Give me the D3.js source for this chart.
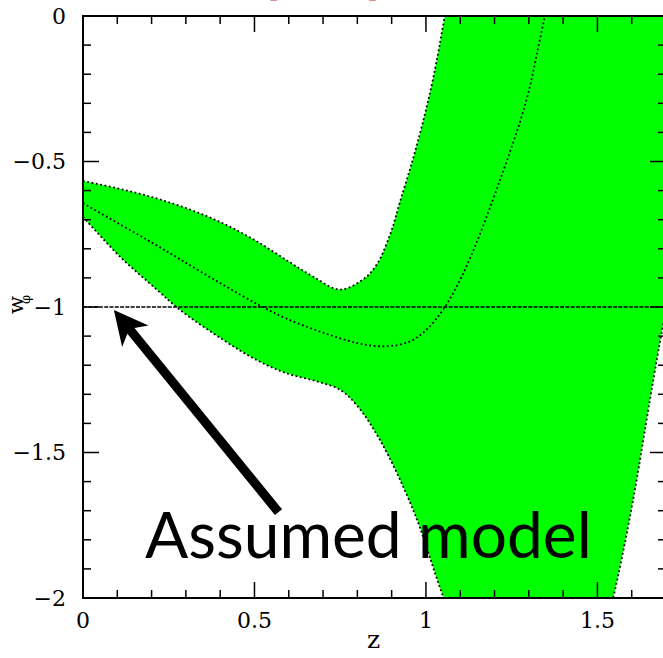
<!DOCTYPE html>
<html>
<head>
<meta charset="utf-8">
<script src="https://cdn.jsdelivr.net/npm/d3@7"></script>
<style>
  html, body { margin: 0; padding: 0; background: #fff; }
  svg { display: block; }
</style>
</head>
<body>
<script>
// ---- data ----
const upperZ = [0, 0.1, 0.2, 0.3, 0.4, 0.5, 0.6, 0.67, 0.749, 0.817, 0.856, 0.897, 0.924, 0.96, 0.99, 1.02, 1.055, 1.1, 1.4, 1.75];
const upperW = [-0.567, -0.592, -0.622, -0.66, -0.708, -0.77, -0.844, -0.895, -0.94, -0.905, -0.855, -0.746, -0.64, -0.50, -0.37, -0.22, 0, 0.3, 2.0, 4.0];

const lowerZ = [0, 0.108, 0.215, 0.283, 0.409, 0.506, 0.594, 0.68, 0.75, 0.8, 0.866, 0.963, 1.05, 1.15, 1.3, 1.45, 1.547, 1.604, 1.653, 1.687, 1.75];
const lowerW = [-0.69, -0.827, -0.94, -1.01, -1.113, -1.182, -1.228, -1.255, -1.285, -1.34, -1.457, -1.698, -1.995, -2.3, -2.55, -2.45, -1.995, -1.663, -1.32, -1.09, -0.7];

const bestZ = [0, 0.108, 0.2, 0.283, 0.4, 0.516, 0.594, 0.7, 0.8, 0.88, 0.95, 1.0, 1.055, 1.118, 1.216, 1.293, 1.332, 1.4];
const bestW = [-0.643, -0.716, -0.778, -0.836, -0.918, -0.995, -1.04, -1.088, -1.124, -1.135, -1.12, -1.08, -1.0, -0.861, -0.564, -0.289, -0.082, 0.3];

const modelW = -1;
const xDomain = [0, 1.7];
const yDomain = [0, -2];
const xTickValues = [0, 0.5, 1, 1.5];
const xTickLabels = ["0", "0.5", "1", "1.5"];
const yTickValues = [0, -0.5, -1, -1.5, -2];
const yTickLabels = ["0", "\u22120.5", "\u22121", "\u22121.5", "\u22122"];
const minorStep = 0.1;
const xLabel = "z";
const yLabel = "w";
const yLabelSub = "\u03C6";
const annotation = "Assumed model";
const arrowTip = [0.09, -1.01];
const arrowTail = [0.57, -1.705];

// ---- layout ----
const W = 663, H = 658;
const pLeft = 83, pRight = 666, pTop = 16, pBottom = 598;

const svg = d3.select("body").append("svg").attr("width", W).attr("height", H);

const x = d3.scaleLinear().domain(xDomain).range([pLeft, pRight]);
const y = d3.scaleLinear().domain(yDomain).range([pTop, pBottom]);

svg.append("defs").append("clipPath").attr("id", "plotclip")
  .append("rect").attr("x", pLeft).attr("y", pTop).attr("width", pRight - pLeft).attr("height", pBottom - pTop);

const plot = svg.append("g").attr("clip-path", "url(#plotclip)");

const upper = upperZ.map((z, i) => [z, upperW[i]]);
const lower = lowerZ.map((z, i) => [z, lowerW[i]]);
const best = bestZ.map((z, i) => [z, bestW[i]]);

const curve = d3.curveCatmullRom.alpha(0.5);
const lineGen = d3.line().x(d => x(d[0])).y(d => y(d[1])).curve(curve);

const upPath = lineGen(upper);
const lowRev = lineGen(lower.slice().reverse());
plot.append("path")
  .attr("d", upPath + "L" + lowRev.slice(1) + "Z")
  .attr("fill", "#00ff00")
  .attr("stroke", "none");

const dotStyle = sel => sel.attr("fill", "none").attr("stroke", "#000")
  .attr("stroke-width", 1.8).attr("stroke-dasharray", "1.8,2.6");

plot.append("path").attr("d", lineGen(upper)).call(dotStyle);
plot.append("path").attr("d", lineGen(lower)).call(dotStyle);
plot.append("path").attr("d", lineGen(best)).call(dotStyle);

plot.append("line")
  .attr("x1", x(0)).attr("x2", x(xDomain[1]))
  .attr("y1", y(modelW)).attr("y2", y(modelW))
  .attr("stroke", "#000").attr("stroke-width", 1.6).attr("stroke-dasharray", "4,1.3");

// ---- axes ----
const axisG = svg.append("g");
const minorX = d3.range(0, 18).map(i => +(i * minorStep).toFixed(2)).filter(v => v <= xDomain[1]);
const minorY = d3.range(0, 21).map(i => +(-i * minorStep).toFixed(2));
const isMajor = v => Math.abs(v * 2 - Math.round(v * 2)) < 1e-6;

minorX.forEach(v => {
  const len = isMajor(v) ? 16 : 8;
  axisG.append("line").attr("x1", x(v)).attr("x2", x(v)).attr("y1", pBottom).attr("y2", pBottom - len)
    .attr("stroke", "#000").attr("stroke-width", 1.5);
  axisG.append("line").attr("x1", x(v)).attr("x2", x(v)).attr("y1", pTop).attr("y2", pTop + len)
    .attr("stroke", "#000").attr("stroke-width", 1.5);
});
minorY.forEach(v => {
  const len = isMajor(v) ? 16 : 8;
  axisG.append("line").attr("x1", pLeft).attr("x2", pLeft + len).attr("y1", y(v)).attr("y2", y(v))
    .attr("stroke", "#000").attr("stroke-width", 1.5);
  axisG.append("line").attr("x1", pRight).attr("x2", pRight - len).attr("y1", y(v)).attr("y2", y(v))
    .attr("stroke", "#000").attr("stroke-width", 1.5);
});
axisG.append("rect").attr("x", pLeft).attr("y", pTop).attr("width", pRight - pLeft).attr("height", pBottom - pTop)
  .attr("fill", "none").attr("stroke", "#000").attr("stroke-width", 2);

const tickFont = "'DejaVu Serif', serif";
xTickValues.forEach((v, i) => {
  svg.append("text").attr("x", x(v)).attr("y", 628)
    .attr("text-anchor", "middle").attr("font-family", tickFont).attr("font-size", 22)
    .text(xTickLabels[i]);
});
yTickValues.forEach((v, i) => {
  svg.append("text").attr("x", 66).attr("y", y(v)).attr("dy", "0.36em")
    .attr("text-anchor", "end").attr("font-family", tickFont).attr("font-size", 22)
    .text(yTickLabels[i]);
});

svg.append("text").attr("x", (pLeft + pRight) / 2 - 1).attr("y", 648)
  .attr("text-anchor", "middle").attr("font-family", tickFont).attr("font-size", 25)
  .text(xLabel);

const yl = svg.append("text").attr("transform", "translate(23,314) rotate(-90)")
  .attr("font-family", tickFont).attr("font-size", 21);
yl.append("tspan").text(yLabel);
yl.append("tspan").attr("dx", -8).attr("dy", 7).attr("font-size", 13).text(yLabelSub);

// red title remnants (the title is cut off at the top of the picture)
svg.append("text").attr("x", 268).attr("y", -4).attr("font-family", "'Liberation Serif', serif")
  .attr("font-size", 30).attr("fill", "#c1311e").text("[");
svg.append("text").attr("x", 368).attr("y", -4).attr("font-family", "'Liberation Serif', serif")
  .attr("font-size", 30).attr("fill", "#c1311e").text("]");

// ---- annotation arrow ----
const tip = [x(arrowTip[0]), y(arrowTip[1])];
const tail = [x(arrowTail[0]), y(arrowTail[1])];
const adx = tail[0] - tip[0], ady = tail[1] - tip[1];
const L = Math.hypot(adx, ady);
const u = [adx / L, ady / L], n = [u[1], -u[0]];
const P = (a, b) => [tip[0] + u[0] * a + n[0] * b, tip[1] + u[1] * a + n[1] * b];
const headLen = 34, headHalf = 17, notch = 27, shaftHalf = 4.6;
const arrowPts = [P(0, 0), P(headLen, headHalf), P(notch, shaftHalf), P(L, shaftHalf),
                  P(L, -shaftHalf), P(notch, -shaftHalf), P(headLen, -headHalf)];
svg.append("polygon").attr("points", arrowPts.map(p => p.join(",")).join(" ")).attr("fill", "#000");

svg.append("text").attr("x", 145).attr("y", 558)
  .attr("font-family", "Lato, 'Open Sans', sans-serif").attr("font-size", 64)
  .attr("fill", "#000").text(annotation);
</script>
</body>
</html>
